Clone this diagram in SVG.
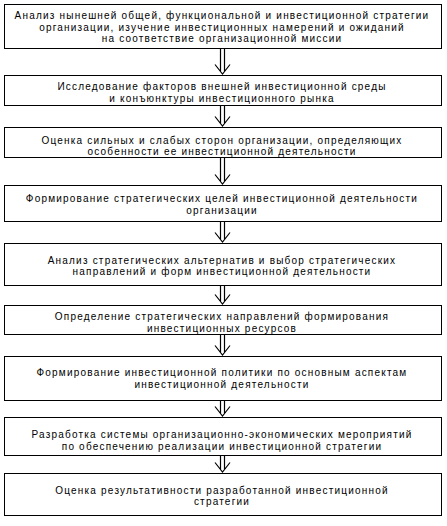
<svg xmlns="http://www.w3.org/2000/svg" width="447" height="526" viewBox="0 0 447 526">
<style>
.box{fill:#fff;stroke:#000;stroke-width:1}
.t{font-family:"Liberation Sans",Arial,sans-serif;font-size:10px;letter-spacing:1.2px;fill:#000;text-anchor:middle}
.arr{fill:none;stroke:#000;stroke-width:1.2}
</style>
<rect width="447" height="526" fill="#fff"/>
<g id="n1">
<rect class="box" x="4.5" y="4.5" width="437" height="44"/>
<text class="t" x="222" y="19">Анализ нынешней общей, функциональной и инвестиционной стратегии</text>
<text class="t" x="222" y="30.5">организации, изучение инвестиционных намерений и ожиданий</text>
<text class="t" x="222" y="42">на соответствие организационной миссии</text>
</g>
<g id="n2">
<rect class="box" x="4.5" y="75.5" width="437" height="30"/>
<text class="t" x="222" y="90.2">Исследование факторов внешней инвестиционной среды</text>
<text class="t" x="222" y="101.8">и конъюнктуры инвестиционного рынка</text>
</g>
<g id="n3">
<rect class="box" x="4.5" y="127.5" width="437" height="30"/>
<text class="t" x="222" y="143.5">Оценка сильных и слабых сторон организации, определяющих</text>
<text class="t" x="222" y="155.2">особенности ее инвестиционной деятельности</text>
</g>
<g id="n4">
<rect class="box" x="4.5" y="185.5" width="437" height="36"/>
<text class="t" x="222" y="201.8">Формирование стратегических целей инвестиционной деятельности</text>
<text class="t" x="222" y="213.5">организации</text>
</g>
<g id="n5">
<rect class="box" x="4.5" y="243.5" width="437" height="42"/>
<text class="t" x="222" y="263.5">Анализ стратегических альтернатив и выбор стратегических</text>
<text class="t" x="222" y="275.2">направлений и форм инвестиционной деятельности</text>
</g>
<g id="n6">
<rect class="box" x="4.5" y="305.5" width="437" height="29"/>
<text class="t" x="222" y="320.2">Определение стратегических направлений формирования</text>
<text class="t" x="222" y="331.8">инвестиционных ресурсов</text>
</g>
<g id="n7">
<rect class="box" x="4.5" y="356.5" width="437" height="44"/>
<text class="t" x="222" y="376.2">Формирование инвестиционной политики по основным аспектам</text>
<text class="t" x="222" y="387.8">инвестиционной деятельности</text>
</g>
<g id="n8">
<rect class="box" x="4.5" y="417.5" width="437" height="38"/>
<text class="t" x="222" y="437.5">Разработка системы организационно-экономических мероприятий</text>
<text class="t" x="222" y="449.5">по обеспечению реализации инвестиционной стратегии</text>
</g>
<g id="n9">
<rect class="box" x="4.5" y="473.5" width="437" height="42"/>
<text class="t" x="222" y="493.5">Оценка результативности разработанной инвестиционной</text>
<text class="t" x="222" y="505.2">стратегии</text>
</g>
<g id="connectors">
<path class="arr" d="M220.5 49V71M224.5 49V71M215 64.5L222.5 74L230 64.5"/>
<path class="arr" d="M220.5 106V123M224.5 106V123M215 116.5L222.5 126L230 116.5"/>
<path class="arr" d="M220.5 158V181M224.5 158V181M215 174.5L222.5 184L230 174.5"/>
<path class="arr" d="M220.5 222V239M224.5 222V239M215 232.5L222.5 242L230 232.5"/>
<path class="arr" d="M220.5 286V301M224.5 286V301M215 294.5L222.5 304L230 294.5"/>
<path class="arr" d="M220.5 335V352M224.5 335V352M215 345.5L222.5 355L230 345.5"/>
<path class="arr" d="M220.5 401V413M224.5 401V413M215 406.5L222.5 416L230 406.5"/>
<path class="arr" d="M220.5 456V469M224.5 456V469M215 462.5L222.5 472L230 462.5"/>
</g>
</svg>
